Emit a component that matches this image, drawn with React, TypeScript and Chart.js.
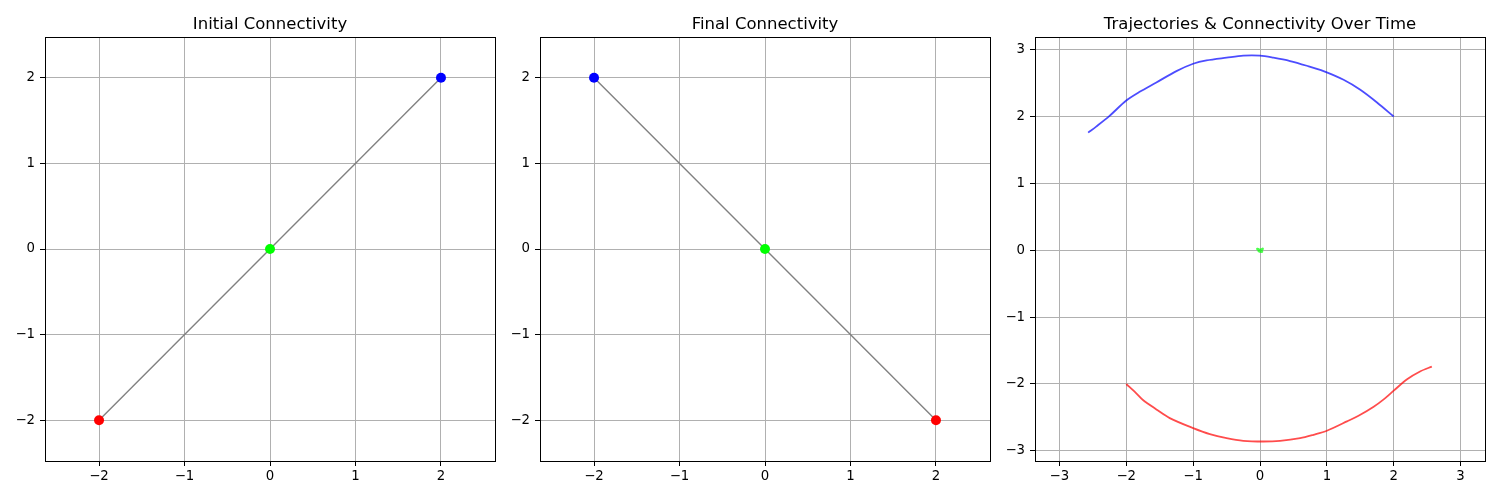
import React, { useEffect, useRef } from "react";
import { Chart, registerables } from "chart.js";
Chart.register(...registerables);

// ---- data ----
const nodeNames = ["red", "green", "blue"];
const initialX = [-2, 0, 2];
const initialY = [-2, 0, 2];
const finalX = [2, 0, -2];
const finalY = [-2, 0, 2];
const edges = [[0, 1], [1, 2]];

const redTrajX = [-2.0, -1.85, -1.75, -1.55, -1.35, -1.0, -0.75, -0.5, -0.25, 0.05, 0.3, 0.6, 0.8, 1.0, 1.3, 1.5, 1.7, 1.85, 2.0, 2.2, 2.4, 2.57];
const redTrajY = [-2.0, -2.14, -2.24, -2.38, -2.51, -2.66, -2.75, -2.81, -2.85, -2.86, -2.85, -2.81, -2.76, -2.7, -2.56, -2.46, -2.34, -2.23, -2.1, -1.93, -1.81, -1.74];
const greenTrajX = [0, -0.04, 0.03, -0.02, 0.04, 0.0];
const greenTrajY = [0, 0.02, -0.02, -0.01, 0.02, 0.0];
const blueTrajX = [2.0, 1.75, 1.5, 1.25, 0.95, 0.7, 0.45, 0.2, 0, -0.25, -0.5, -0.8, -1.0, -1.25, -1.55, -1.8, -2.0, -2.25, -2.45, -2.57];
const blueTrajY = [2.0, 2.21, 2.4, 2.55, 2.68, 2.76, 2.83, 2.88, 2.91, 2.91, 2.88, 2.84, 2.79, 2.68, 2.51, 2.37, 2.24, 2.01, 1.85, 1.76];

const connTicks = [-2, -1, 0, 1, 2];
const trajTicks = [-3, -2, -1, 0, 1, 2, 3];

const titles = ["Initial Connectivity", "Final Connectivity", "Trajectories & Connectivity Over Time"];

// ---- styles ----
const nodeColors: Record<string, string> = { red: "#ff0000", green: "#00ff00", blue: "#0000ff" };
const trajColors: Record<string, string> = {
  red: "rgba(255,0,0,0.7)",
  green: "rgba(0,255,0,0.7)",
  blue: "rgba(0,0,255,0.7)",
};
const FONT = "'DejaVu Sans', sans-serif";

const fmt = (v: any) => {
  const n = Number(v);
  return n < 0 ? "\u2212" + Math.abs(n) : String(n);
};

const zip = (xs: number[], ys: number[]) => xs.map((x, i) => ({ x, y: ys[i] }));

function scaleOpts(axis: "x" | "y", min: number, max: number, ticks: number[]) {
  return {
    type: "linear",
    min,
    max,
    afterBuildTicks: (s: any) => {
      s.ticks = ticks.map((v) => ({ value: v }));
    },
    afterFit: (s: any) => {
      if (axis === "x") s.height = 30;
      else s.width = 40;
    },
    grid: { color: "#b0b0b0", lineWidth: 1, tickColor: "#000", tickLength: 5, drawTicks: true },
    border: { display: false },
    ticks: {
      padding: axis === "x" ? 3 : 5,
      color: "#000",
      font: { family: FONT, size: 13.3 },
      callback: fmt,
      autoSkip: false,
      maxRotation: 0,
    },
  };
}

function framePlugin(title: string) {
  return {
    id: "frame",
    afterDraw(chart: any) {
      const { ctx, chartArea } = chart;
      const { left, right, top, bottom } = chartArea;
      ctx.save();
      ctx.strokeStyle = "#000";
      ctx.lineWidth = 1;
      ctx.strokeRect(left + 0.5, top + 0.5, right - left, bottom - top);
      ctx.font = `16.5px ${FONT}`;
      ctx.fillStyle = "#000";
      ctx.textAlign = "center";
      ctx.textBaseline = "alphabetic";
      ctx.fillText(title, (left + right) / 2, 29);
      ctx.restore();
    },
  };
}

function connectivityDatasets(xs: number[], ys: number[]) {
  const pts = nodeNames.map((name, i) => ({
    type: "scatter",
    data: [{ x: xs[i], y: ys[i] }],
    backgroundColor: nodeColors[name],
    borderColor: nodeColors[name],
    borderWidth: 0,
    pointRadius: 5,
  }));
  const lines = edges.map(([a, b]) => ({
    type: "scatter",
    data: [
      { x: xs[a], y: ys[a] },
      { x: xs[b], y: ys[b] },
    ],
    showLine: true,
    borderColor: "#808080",
    borderWidth: 1.4,
    pointRadius: 0,
  }));
  return [...pts, ...lines];
}

function trajectoryDatasets() {
  const sets = [
    { name: "red", xs: redTrajX, ys: redTrajY },
    { name: "green", xs: greenTrajX, ys: greenTrajY },
    { name: "blue", xs: blueTrajX, ys: blueTrajY },
  ];
  return sets.map((s) => ({
    type: "scatter",
    data: zip(s.xs, s.ys),
    showLine: true,
    borderColor: trajColors[s.name],
    borderWidth: s.name === "green" ? 2.5 : 1.8,
    pointRadius: 0,
    tension: 0.3,
  }));
}

const W = 1500;
const H = 500;

interface PanelSpec {
  areaLeft: number;
  areaRight: number;
  xMin: number;
  xMax: number;
  yMin: number;
  yMax: number;
  ticksX: number[];
  ticksY: number[];
  datasets: any[];
  title: string;
}

function Panel({ spec }: { spec: PanelSpec }) {
  const ref = useRef<HTMLCanvasElement | null>(null);
  useEffect(() => {
    if (!ref.current) return;
    const top = 37;
    const bottom = 461;
    const chart = new Chart(ref.current, {
      type: "scatter",
      data: { datasets: spec.datasets as any },
      options: {
        animation: false,
        responsive: false,
        devicePixelRatio: 1,
        layout: {
          padding: {
            left: spec.areaLeft - 40,
            right: W - spec.areaRight,
            top,
            bottom: H - bottom - 30,
          },
        },
        plugins: { legend: { display: false }, tooltip: { enabled: false }, title: { display: false } },
        scales: {
          x: scaleOpts("x", spec.xMin, spec.xMax, spec.ticksX) as any,
          y: scaleOpts("y", spec.yMin, spec.yMax, spec.ticksY) as any,
        },
      },
      plugins: [framePlugin(spec.title)],
    });
    return () => chart.destroy();
  }, [spec]);
  return (
    <canvas
      ref={ref}
      width={W}
      height={H}
      style={{ position: "absolute", left: 0, top: 0, width: W, height: H }}
    />
  );
}

const panels: PanelSpec[] = [
  {
    areaLeft: 45,
    areaRight: 495,
    xMin: -2.632,
    xMax: 2.632,
    yMin: -2.477,
    yMax: 2.477,
    ticksX: connTicks,
    ticksY: connTicks,
    datasets: connectivityDatasets(initialX, initialY),
    title: titles[0],
  },
  {
    areaLeft: 540,
    areaRight: 990,
    xMin: -2.632,
    xMax: 2.632,
    yMin: -2.477,
    yMax: 2.477,
    ticksX: connTicks,
    ticksY: connTicks,
    datasets: connectivityDatasets(finalX, finalY),
    title: titles[1],
  },
  {
    areaLeft: 1035,
    areaRight: 1485,
    xMin: -3.365,
    xMax: 3.365,
    yMin: -3.152,
    yMax: 3.19,
    ticksX: trajTicks,
    ticksY: trajTicks,
    datasets: trajectoryDatasets(),
    title: titles[2],
  },
];

export default function App() {
  return (
    <div style={{ position: "absolute", left: 0, top: 0, width: W, height: H, background: "#fff" }}>
      {panels.map((p, i) => (
        <Panel key={i} spec={p} />
      ))}
    </div>
  );
}
